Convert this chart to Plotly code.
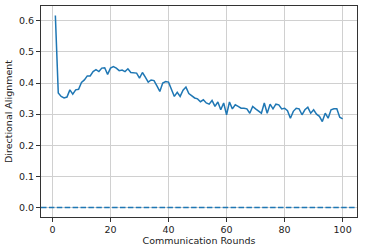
import plotly.graph_objects as go

rounds = list(range(1, 101))
alignment = [
    0.617, 0.368, 0.357, 0.352, 0.355, 0.378, 0.364, 0.378, 0.380, 0.402,
    0.410, 0.423, 0.423, 0.437, 0.443, 0.437, 0.448, 0.449, 0.428, 0.448,
    0.453, 0.448, 0.440, 0.442, 0.437, 0.446, 0.434, 0.434, 0.432, 0.416,
    0.434, 0.419, 0.403, 0.410, 0.408, 0.391, 0.373, 0.400, 0.405, 0.403,
    0.381, 0.357, 0.370, 0.357, 0.377, 0.387, 0.366, 0.358, 0.352, 0.349,
    0.340, 0.346, 0.336, 0.332, 0.344, 0.325, 0.339, 0.314, 0.336, 0.298,
    0.339, 0.317, 0.330, 0.325, 0.319, 0.319, 0.317, 0.303, 0.325, 0.317,
    0.311, 0.303, 0.336, 0.303, 0.332, 0.317, 0.332, 0.330, 0.317, 0.319,
    0.311, 0.287, 0.309, 0.319, 0.317, 0.298, 0.314, 0.322, 0.303, 0.314,
    0.300, 0.293, 0.276, 0.303, 0.287, 0.314, 0.317, 0.317, 0.290, 0.285,
]
baseline = 0.0
x_ticks = [0, 20, 40, 60, 80, 100]
y_ticks = [0.0, 0.1, 0.2, 0.3, 0.4, 0.5, 0.6]

C0 = "#1f77b4"
font = dict(family="DejaVu Sans", size=9.5, color="#222")

fig = go.Figure()
fig.add_trace(go.Scatter(x=rounds, y=alignment, mode="lines",
                         line=dict(color=C0, width=1.5), showlegend=False))
fig.add_hline(y=baseline, line=dict(color=C0, width=1.5, dash="5.5px,2.4px"), layer="above")

axis_common = dict(showgrid=True, gridcolor="#d0d0d0", gridwidth=0.8,
                   showline=True, linecolor="#333", linewidth=1, mirror=True,
                   ticks="outside", ticklen=4, tickwidth=0.8, tickcolor="#333",
                   zeroline=False, tickfont=font)

fig.update_xaxes(range=[-3.95, 104.95], tickvals=x_ticks,
                 title=dict(text="Communication Rounds", font=font, standoff=2),
                 **axis_common)
fig.update_yaxes(range=[-0.0308, 0.6478], tickvals=y_ticks, tickformat=".1f",
                 title=dict(text="Directional Alignment", font=font, standoff=4),
                 **axis_common)

fig.update_layout(width=366, height=247,
                  margin=dict(l=41, r=9, t=6, b=30, autoexpand=False),
                  plot_bgcolor="white", paper_bgcolor="white", font=font)

fig.write_html("out.html", config={"displayModeBar": False},
               post_script="document.body.style.margin='0';document.body.style.overflow='hidden';")
